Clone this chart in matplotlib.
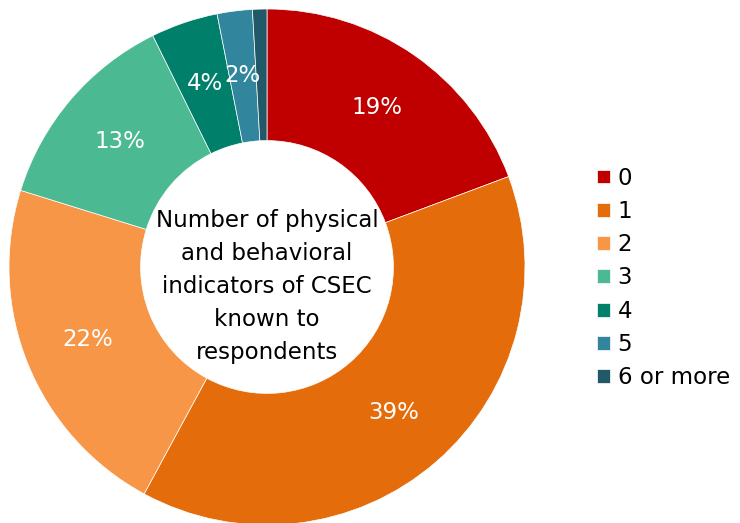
import matplotlib.pyplot as plt

# Share of respondents by number of CSEC indicators known
categories = ['0', '1', '2', '3', '4', '5', '6 or more']
shares = [19.3, 38.6, 21.9, 12.9, 4.2, 2.2, 0.9]
colors = ['#C00000', '#E46C0A', '#F79646', '#4BBA93', '#00806A', '#31859C', '#215968']

plt.rcParams['font.family'] = ['DejaVu Sans']

fig = plt.figure(figsize=(7.4, 5.23), dpi=100)
ax = fig.add_axes([(267 - 262) / 740, (523 - 267 - 262) / 523, 524 / 740, 524 / 523])

def pct_label(p):
    # smallest slice carries no label
    return f'{p:.0f}%' if p >= 1.5 else ''

wedges, texts, autotexts = ax.pie(
    shares, colors=colors, startangle=90, counterclock=False,
    radius=1, autopct=pct_label, pctdistance=0.75,
    wedgeprops=dict(width=0.51, edgecolor='white', linewidth=0.5),
    textprops=dict(color='white', fontsize=16.5))

ax.set_xlim(-262 / 258, 262 / 258)
ax.set_ylim(-262 / 258, 262 / 258)
ax.set_aspect('equal')

ax.text(0, -0.075, 'Number of physical\nand behavioral\nindicators of CSEC\nknown to\nrespondents',
        ha='center', va='center', fontsize=16.5, color='black', linespacing=1.55)

ax.legend(wedges, categories, loc='center left', bbox_to_anchor=(597 / 740, 1 - 278 / 523),
          bbox_transform=fig.transFigure, frameon=False, fontsize=16.5,
          handlelength=0.55, handleheight=0.55, handletextpad=0.35,
          labelspacing=0.45, borderpad=0, borderaxespad=0)

fig.savefig('out.png', dpi=100)
